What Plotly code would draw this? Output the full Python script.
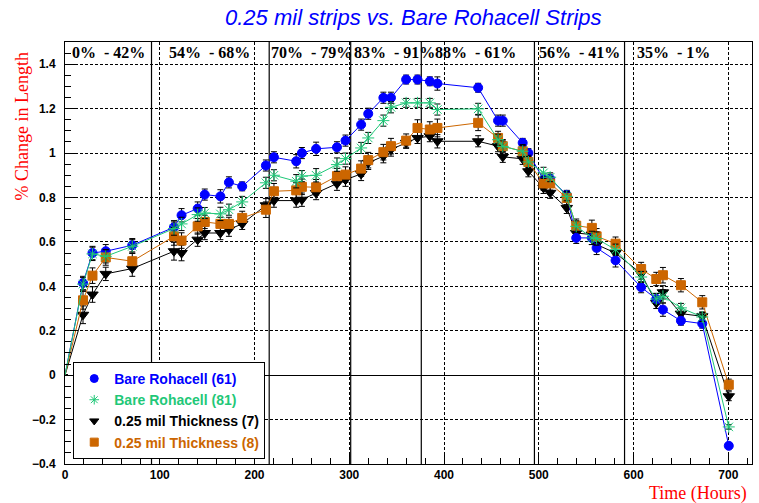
import plotly.graph_objects as go

# ---------------- data ----------------
hours = [0, 19, 29, 43, 71, 115, 123, 140, 147.5, 164, 173, 187, 212, 220.5, 244, 250,
         265, 287, 296, 312.5, 320, 336, 344, 360, 372, 385, 393, 436, 457, 462,
         483, 489, 505, 512, 529.5, 539.5, 556, 561, 581, 608, 624, 631, 650, 672.5, 700.5]

bare61 = [0, 0.415, 0.55, 0.558, 0.585, 0.666, 0.72, 0.75, 0.813, 0.805, 0.868, 0.85, 0.944, 0.981, 0.963, 1.0,
          1.019, 1.026, 1.056, 1.128, 1.177, 1.249, 1.249, 1.331, 1.331, 1.323, 1.313, 1.294, 1.146, 1.146,
          1.046, 1.0, 0.881, 0.884, 0.812, 0.618, 0.618, 0.573, 0.517, 0.396, 0.343, 0.295, 0.245, 0.232, -0.318]
bare81 = [0, 0.41, 0.546, 0.535, 0.58, 0.66, 0.681, 0.723, 0.73, 0.726, 0.745, 0.78, 0.866, 0.9, 0.873, 0.896,
          0.9, 0.948, 0.975, 1.023, 1.068, 1.146, 1.206, 1.226, 1.226, 1.226, 1.196, 1.199, 1.06, 1.03,
          1.008, 0.96, 0.911, 0.891, 0.805, 0.67, 0.618, 0.615, 0.565, 0.442, 0.343, 0.355, 0.303, 0.262, -0.233]
thick7 = [0, 0.272, 0.363, 0.456, 0.48, 0.558, 0.55, 0.61, 0.64, 0.64, 0.655, 0.681, 0.765, 0.786, 0.786, 0.79,
          0.82, 0.862, 0.88, 0.906, 0.956, 0.986, 1.016, 1.046, 1.068, 1.076, 1.053, 1.053, 1.031, 0.983,
          0.974, 0.918, 0.843, 0.821, 0.753, 0.64, 0.633, 0.588, 0.55, 0.457, 0.325, 0.373, 0.277, 0.265, -0.095]
thick8 = [0, 0.337, 0.448, 0.53, 0.513, 0.625, 0.606, 0.67, 0.69, 0.681, 0.681, 0.708, 0.745, 0.828, 0.832, 0.848,
          0.846, 0.896, 0.903, 0.93, 0.968, 1.004, 1.031, 1.056, 1.113, 1.106, 1.113, 1.136, 1.068, 1.031,
          1.008, 0.96, 0.863, 0.863, 0.798, 0.673, 0.663, 0.625, 0.592, 0.478, 0.433, 0.45, 0.405, 0.328, -0.043]

err61 = [0, 0.03, 0.03, 0.03, 0.03, 0.03, 0.03, 0.03, 0.025, 0.03, 0.025, 0.02, 0.025, 0.025, 0.03, 0.025,
         0.03, 0.025, 0.025, 0.025, 0.025, 0.025, 0.025, 0.02, 0.02, 0.02, 0.03, 0.02, 0.025, 0.025,
         0.02, 0.02, 0.025, 0.02, 0.02, 0.025, 0.03, 0.03, 0.03, 0.025, 0.025, 0.03, 0.02, 0.02, 0.01]
err81 = [0, 0.03, 0.03, 0.03, 0.03, 0.03, 0.03, 0.03, 0.025, 0.03, 0.025, 0.025, 0.025, 0.025, 0.03, 0.025,
         0.03, 0.03, 0.025, 0.025, 0.025, 0.025, 0.025, 0.02, 0.02, 0.02, 0.025, 0.025, 0.025, 0.025,
         0.025, 0.025, 0.025, 0.02, 0.02, 0.025, 0.03, 0.03, 0.025, 0.025, 0.025, 0.03, 0.02, 0.02, 0.01]
err7 = [0, 0.04, 0.035, 0.03, 0.035, 0.04, 0.035, 0.03, 0.03, 0.03, 0.03, 0.025, 0.03, 0.03, 0.03, 0.03,
        0.03, 0.03, 0.03, 0.03, 0.03, 0.03, 0.03, 0.025, 0.025, 0.025, 0.03, 0.025, 0.025, 0.025,
        0.025, 0.025, 0.025, 0.025, 0.025, 0.025, 0.03, 0.03, 0.03, 0.025, 0.025, 0.03, 0.025, 0.02, 0.02]
err8 = [0, 0.04, 0.035, 0.035, 0.035, 0.04, 0.035, 0.035, 0.03, 0.03, 0.03, 0.03, 0.035, 0.035, 0.035, 0.035,
        0.035, 0.035, 0.035, 0.035, 0.035, 0.035, 0.035, 0.03, 0.037, 0.035, 0.04, 0.035, 0.03, 0.03,
        0.03, 0.03, 0.03, 0.03, 0.03, 0.03, 0.035, 0.035, 0.03, 0.03, 0.03, 0.035, 0.03, 0.03, 0.025]

phase_bounds = [91.3, 215.5, 301.5, 376.0, 495.4, 590.5]
phase_labels = ["0%  - 42%", "54%  - 68%", "70%  - 79%", "83%  - 91%", "88%  - 61%", "56%  - 41%", "35%  - 1%"]
phase_label_x = [5.1, 107.4, 215.0, 302.5, 388.0, 497.7, 601.0]

x_ticks = [0, 100, 200, 300, 400, 500, 600, 700]
x_ticktext = ["0", "100", "200", "300", "400", "500", "600", "700"]
y_ticks = [-0.4, -0.2, 0, 0.2, 0.4, 0.6, 0.8, 1.0, 1.2, 1.4]
y_ticktext = ["\u22120.4", "\u22120.2", "0", "0.2", "0.4", "0.6", "0.8", "1", "1.2", "1.4"]

series_names = ["Bare Rohacell (61)", "Bare Rohacell (81)", "0.25 mil Thickness (7)", "0.25 mil Thickness (8)"]

# ---------------- figure ----------------
BLUE = "#0000FF"
GREEN = "#1FC878"
BLACK = "#000000"
ORANGE = "#CC6600"

styles = {
    0: dict(y=bare61, e=err61, color=BLUE, symbol="circle", size=9),
    1: dict(y=bare81, e=err81, color=GREEN, symbol="asterisk-open", size=10),
    2: dict(y=thick7, e=err7, color=BLACK, symbol="triangle-down", size=10),
    3: dict(y=thick8, e=err8, color=ORANGE, symbol="square", size=9),
}

fig = go.Figure()
draw_order = [2, 0, 3, 1]
n = len(hours)
for i in draw_order:
    s = styles[i]
    sizes = [0] + [s["size"]] * (n - 1)
    fig.add_trace(go.Scatter(
        x=hours, y=s["y"], mode="lines+markers",
        line=dict(color=s["color"], width=1),
        marker=dict(color=s["color"], symbol=s["symbol"], size=sizes, opacity=1,
                    line=dict(color=s["color"], width=1)),
        error_y=dict(type="data", array=s["e"], visible=True, color="black", thickness=1, width=3),
        showlegend=False, hoverinfo="skip",
    ))

for i in range(4):
    s = styles[i]
    fig.add_trace(go.Scatter(
        x=[None], y=[None], mode="markers",
        marker=dict(color=s["color"], symbol=s["symbol"], size=8,
                    line=dict(color=s["color"], width=1)),
        name="<b><span style='color:%s'>%s</span></b>" % (s["color"], series_names[i]),
        showlegend=True,
    ))

for xb in phase_bounds:
    fig.add_vline(x=xb, line=dict(color="black", width=1.2), layer="below")

for lab, lx in zip(phase_labels, phase_label_x):
    fig.add_annotation(x=lx, y=0.974, xref="x", yref="paper", text="<b>%s</b>" % lab,
                       showarrow=False, xanchor="left", yanchor="middle",
                       font=dict(family="Liberation Serif, Times New Roman, serif", size=16, color="black"))

fig.add_annotation(x=-0.0626, y=0.80, xref="paper", yref="paper", text="% Change in Length",
                   textangle=-90, showarrow=False, xanchor="center", yanchor="middle",
                   font=dict(family="Liberation Serif, Times New Roman, serif", size=18, color="red"))
fig.add_annotation(x=0.995, y=-0.071, xref="paper", yref="paper", text="Time (Hours)",
                   showarrow=False, xanchor="right", yanchor="middle",
                   font=dict(family="Liberation Serif, Times New Roman, serif", size=18, color="red"))

tickfont = dict(family="Liberation Sans, Arial, sans-serif", size=12, color="black", weight="bold")
fig.update_layout(
    width=759, height=503, autosize=False,
    margin=dict(l=65, r=7, t=42, b=39, autoexpand=False),
    paper_bgcolor="white", plot_bgcolor="white",
    title=dict(text="<i>0.25 mil strips vs. Bare Rohacell Strips</i>", x=0.507, xref="paper",
               xanchor="center", y=0.966, yref="container", yanchor="middle",
               font=dict(family="Liberation Sans, Arial, sans-serif", size=22, color=BLUE)),
    xaxis=dict(range=[0, 725], tickvals=x_ticks, ticktext=x_ticktext, tickfont=tickfont, automargin=False,
               showgrid=True, gridcolor="black", gridwidth=1, griddash="3px,2px",
               ticks="inside", ticklen=11, tickcolor="black", tickwidth=1,
               showline=True, linecolor="black", linewidth=1, mirror=True, zeroline=False,
               minor=dict(dtick=20, tick0=0, ticks="inside", ticklen=6, tickcolor="black", showgrid=False)),
    yaxis=dict(range=[-0.4, 1.5], tickvals=y_ticks, ticktext=y_ticktext, tickfont=tickfont, automargin=False,
               showgrid=True, gridcolor="black", gridwidth=1, griddash="3px,2px",
               ticks="inside", ticklen=11, tickcolor="black", tickwidth=1, ticklabelstandoff=6,
               showline=True, linecolor="black", linewidth=1, mirror=True,
               zeroline=True, zerolinecolor="black", zerolinewidth=1.2,
               minor=dict(dtick=0.05, tick0=0, ticks="inside", ticklen=6, tickcolor="black", showgrid=False)),
    legend=dict(x=0.012, y=0.012, xanchor="left", yanchor="bottom", bgcolor="white",
                bordercolor="black", borderwidth=1, itemwidth=30,
                font=dict(family="Liberation Sans, Arial, sans-serif", size=14, color="black")),
)

fig.write_html("out.html", config={"displayModeBar": False},
               post_script="document.body.style.margin='0px';document.body.style.padding='0px';")
